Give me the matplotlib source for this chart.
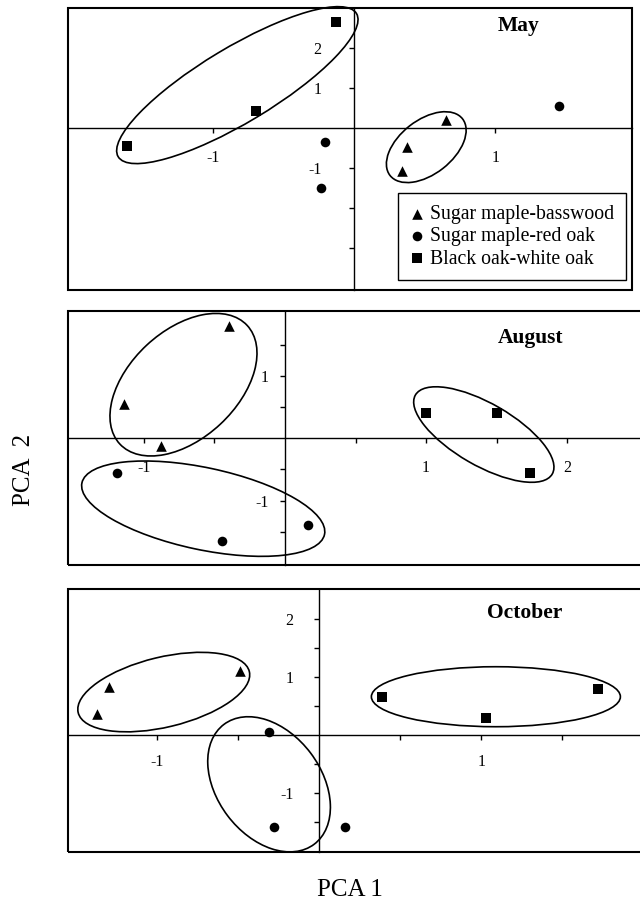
import matplotlib
matplotlib.use('Agg')
import matplotlib.pyplot as plt
import matplotlib.transforms as mtransforms
from matplotlib.patches import Ellipse, Rectangle

plt.rcParams['font.family'] = ['Liberation Serif', 'DejaVu Serif']
plt.rcParams['axes.unicode_minus'] = False

groups = ['Sugar maple-basswood', 'Sugar maple-red oak', 'Black oak-white oak']
markers = ['^', 'o', 's']
sizes = [58, 48, 46]

# PCA scores (one list per group: basswood, red oak, white oak)
may_x = [[0.65, 0.37, 0.34], [-0.21, -0.24, 1.45], [-1.61, -0.70, -0.13]]
may_y = [[0.21, -0.46, -1.06], [-0.33, -1.50, 0.56], [-0.43, 0.43, 2.65]]
aug_x = [[-0.40, -1.14, -0.88], [-1.19, -0.45, 0.16], [1.00, 1.50, 1.74]]
aug_y = [[1.80, 0.55, -0.13], [-0.55, -1.65, -1.39], [0.41, 0.41, -0.55]]
oct_x = [[-0.49, -1.30, -1.37], [-0.31, -0.28, 0.16], [0.39, 1.03, 1.72]]
oct_y = [[1.11, 0.82, 0.36], [0.06, -1.58, -1.59], [0.65, 0.29, 0.80]]

# group outlines: centre (data), semi axes (px), angle (deg)
may_rings = [(-0.83, 1.08, 139, 37.5, 31), (0.51, -0.47, 46, 27, 38)]
aug_rings = [(-0.72, 0.86, 87, 54, 43), (-0.58, -1.13, 124, 41, -12),
             (1.41, 0.06, 79, 31, -30)]
oct_rings = [(-0.96, 0.74, 88, 35, 13.5), (-0.31, -0.85, 75, 52, -53),
             (1.09, 0.66, 124.5, 30, 0)]

fig = plt.figure(figsize=(6.4, 9.14), dpi=100)
W, H = 640.0, 914.0


def panel(box, xlim, ylim, xs, ys, rings, xt, xl, yt, yl, ypad, xpad, title, tpos):
    l, t, r, b = box
    ax = fig.add_axes([l / W, 1 - b / H, (r - l) / W, (b - t) / H])
    ax.set_xlim(*xlim)
    ax.set_ylim(*ylim)
    for sp in ['top', 'right']:
        ax.spines[sp].set_visible(False)
    ax.spines['left'].set_position(('data', 0))
    ax.spines['bottom'].set_position(('data', 0))
    ax.spines['left'].set_linewidth(1.0)
    ax.spines['bottom'].set_linewidth(1.0)
    ax.add_patch(Rectangle((0, 0), 1, 1, transform=ax.transAxes, fill=False,
                           lw=1.5, ec='black', clip_on=False, zorder=5))
    ax.set_xticks(xt)
    ax.set_xticklabels(xl)
    ax.set_yticks(yt)
    ax.set_yticklabels(yl)
    ax.tick_params(axis='both', direction='out', length=3.5, width=1.0,
                   labelsize=11.5)
    ax.tick_params(axis='y', pad=ypad)
    ax.tick_params(axis='x', pad=xpad)

    hs = []
    for i in range(3):
        h = ax.scatter(xs[i], ys[i], marker=markers[i], s=sizes[i], c='black',
                       linewidths=0, zorder=4, clip_on=False, label=groups[i])
        hs.append(h)

    for cx, cy, a, bb, ang in rings:
        tr = fig.dpi_scale_trans + mtransforms.ScaledTranslation(cx, cy, ax.transData)
        e = Ellipse((0, 0), 2 * a / 100.0, 2 * bb / 100.0, angle=ang, transform=tr,
                    fill=False, ec='black', lw=1.2, clip_on=False, zorder=3)
        ax.add_artist(e)

    fig.text(tpos[0] / W, 1 - tpos[1] / H, title, ha='center', va='center',
             fontsize=15.5, fontweight='bold')
    return ax, hs


ax1, hs = panel((68, 8.3, 631.7, 290), (-2.031, 1.967), (-4.04, 3.0),
                may_x, may_y, may_rings,
                [-1, 1], ['-1', '1'], [-3, -2, -1, 1, 2], ['', '', '-1', '1', '2'],
                20, 12, 'May', (519, 26))

panel((68, 311, 643, 565), (-1.539, 2.539), (-2.034, 2.043),
      aug_x, aug_y, aug_rings,
      [-1, -0.5, 0.5, 1, 1.5, 2], ['-1', '', '', '1', '', '2'],
      [-1.5, -1, -0.5, 0.5, 1, 1.5], ['', '-1', '', '', '1', ''],
      8, 12, 'August', (531, 338))

panel((68, 589.3, 643, 852), (-1.551, 1.998), (-2.017, 2.512),
      oct_x, oct_y, oct_rings,
      [-1, -0.5, 0.5, 1, 1.5], ['-1', '', '', '1', ''],
      [-1.5, -1, -0.5, 0.5, 1, 1.5, 2], ['', '-1', '', '', '1', '', '2'],
      15, 10, 'October', (525, 613))

leg = ax1.legend(handles=hs, loc='upper left', bbox_to_anchor=(398 / W, 1 - 193 / H),
                 bbox_transform=fig.transFigure, fontsize=14.2, frameon=True,
                 fancybox=False, framealpha=1, edgecolor='black', borderaxespad=0,
                 borderpad=0.6, handlelength=0.7, handletextpad=0.3,
                 labelspacing=0.17, scatterpoints=1)
leg.get_frame().set_linewidth(1.0)
leg.set_zorder(6)

fig.text(350 / W, 1 - 890 / H, 'PCA 1', ha='center', va='center', fontsize=18)
fig.text(24 / W, 1 - 470 / H, 'PCA  2', ha='center', va='center', fontsize=18,
         rotation=90)

fig.savefig('out.png', dpi=100)
